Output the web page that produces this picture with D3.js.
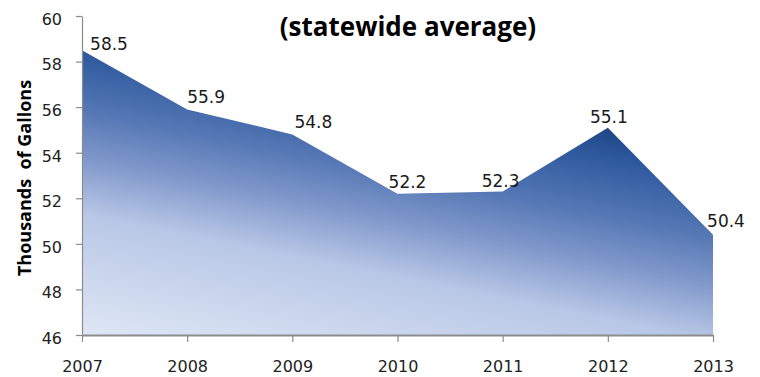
<!DOCTYPE html>
<html>
<head>
<meta charset="utf-8">
<script src="https://cdn.jsdelivr.net/npm/d3@7/dist/d3.min.js"></script>
<style>
  html, body { margin: 0; padding: 0; background: #fff; }
  svg { display: block; }
</style>
</head>
<body>
<svg id="chart" width="760" height="377"></svg>
<script>
// Average water use per household, thousands of gallons
const years = ["2007", "2008", "2009", "2010", "2011", "2012", "2013"];
const gallons = [58.5, 55.9, 54.8, 52.2, 52.3, 55.1, 50.4];
const yTicks = [46, 48, 50, 52, 54, 56, 58, 60];
const titleText = "(statewide average)";
const yAxisTitle = "Thousands  of Gallons";

// Nudges for the value labels so they sit clear of the area edge
const labelDx = [27, 19, 21, 10, -2, 1, 13];
const labelDy = [0, -6, -6, -6, -4, -5, -8];

const W = 760, H = 377;
const margin = { top: 16, right: 47, bottom: 42, left: 82 };
const svg = d3.select("#chart");

const x = d3.scalePoint().domain(years).range([margin.left, W - margin.right]);
const y = d3.scaleLinear().domain([46, 60]).range([H - margin.bottom, margin.top]);

const data = years.map((yr, i) => ({ year: yr, v: gallons[i] }));

// Diagonal fill: dark navy near the 2012 peak fading to pale blue lower left
const defs = svg.append("defs");
const g0x = x("2012"), g0y = y(55.4);
const grad = defs.append("linearGradient")
  .attr("id", "areaFill")
  .attr("gradientUnits", "userSpaceOnUse")
  .attr("x1", g0x).attr("y1", g0y)
  .attr("x2", g0x - 61.5).attr("y2", g0y + 307.7);
[
  [0, "#1a4181"],
  [0.12, "#2f5a9e"],
  [0.3, "#5678b5"],
  [0.45, "#8199cb"],
  [0.62, "#b8c7e6"],
  [1, "#dfe7f5"]
].forEach(([o, c]) => grad.append("stop").attr("offset", o).attr("stop-color", c));

const area = d3.area()
  .x(d => x(d.year))
  .y0(y(46))
  .y1(d => y(d.v));

svg.append("path")
  .datum(data)
  .attr("d", area)
  .attr("fill", "url(#areaFill)");

// Y axis
const yAxis = svg.append("g")
  .attr("transform", `translate(${margin.left},0)`)
  .call(d3.axisLeft(y).tickValues(yTicks).tickFormat(d3.format("d"))
    .tickSize(6).tickSizeOuter(0).tickPadding(14));
yAxis.select(".domain").attr("stroke", "#8c8c8c").attr("stroke-width", 1.2);
yAxis.selectAll(".tick line").attr("stroke", "#8c8c8c").attr("stroke-width", 1.2);
yAxis.selectAll(".tick text")
  .attr("font-family", "DejaVu Sans, sans-serif")
  .attr("font-size", 16)
  .attr("fill", "#222")
  .attr("dy", "0.52em");

// X axis
const xAxis = svg.append("g")
  .attr("transform", `translate(0,${y(46)})`)
  .call(d3.axisBottom(x).tickSize(7).tickSizeOuter(0).tickPadding(19));
xAxis.select(".domain").attr("stroke", "#8c8c8c").attr("stroke-width", 2);
xAxis.selectAll(".tick line").attr("stroke", "#8c8c8c").attr("stroke-width", 1.2);
xAxis.selectAll(".tick text")
  .attr("font-family", "DejaVu Sans, sans-serif")
  .attr("font-size", 16)
  .attr("fill", "#222");

// Value labels
svg.append("g")
  .selectAll("text")
  .data(data)
  .join("text")
  .attr("x", (d, i) => x(d.year) + labelDx[i])
  .attr("y", (d, i) => y(d.v) + labelDy[i])
  .attr("text-anchor", "middle")
  .attr("font-family", "DejaVu Sans, sans-serif")
  .attr("font-size", 17)
  .attr("fill", "#1a1a1a")
  .text(d => d.v.toFixed(1));

// Title
svg.append("text")
  .attr("x", 408)
  .attr("y", 36)
  .attr("text-anchor", "middle")
  .attr("font-family", "Open Sans, sans-serif")
  .attr("font-weight", "bold")
  .attr("font-size", 26)
  .attr("fill", "#000")
  .text(titleText);

// Y axis title
svg.append("text")
  .attr("transform", "translate(31,178) rotate(-90)")
  .attr("text-anchor", "middle")
  .attr("font-family", "Open Sans, sans-serif")
  .attr("font-weight", "bold")
  .attr("font-size", 18)
  .attr("fill", "#000")
  .style("white-space", "pre")
  .text(yAxisTitle);
</script>
</body>
</html>
